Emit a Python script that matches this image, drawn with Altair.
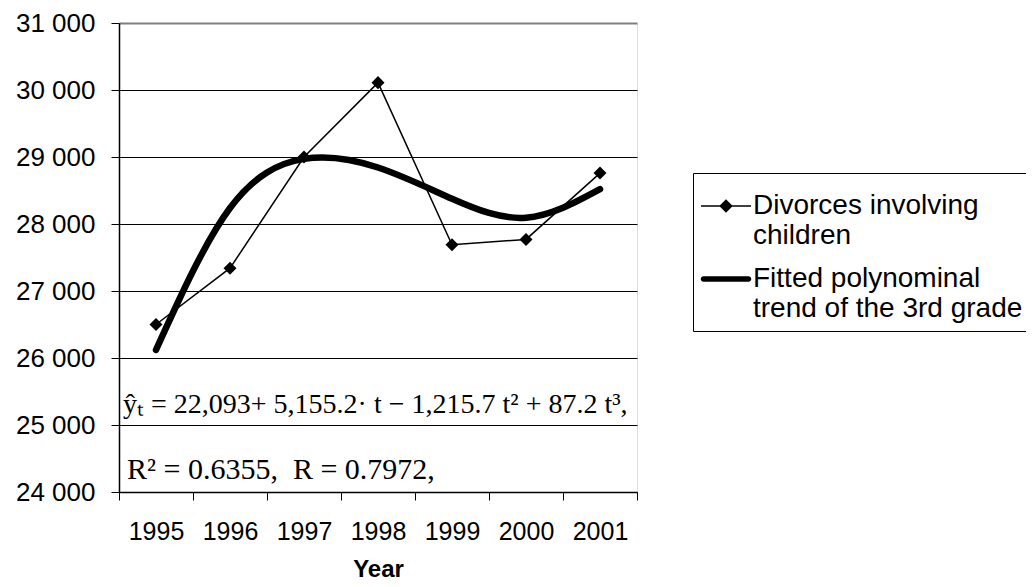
import altair as alt
import pandas as pd

years = ["1995", "1996", "1997", "1998", "1999", "2000", "2001"]
divorces = [26500, 27340, 29000, 30110, 27690, 27770, 28760]
trend = [26120, 28238, 28972, 28843, 28377, 28094, 28520]
y_ticks = [24000, 25000, 26000, 27000, 28000, 29000, 30000, 31000]
series_names = ["Divorces involving|children", "Fitted polynominal|trend of the 3rd grade"]
eq_text = ["ŷₜ = 22,093+ 5,155.2· t − 1,215.7 t² + 87.2 t³,"]
eq_year = ["1995"]
eq_value = [25180]
r_text = ["R² = 0.6355,\u00a0\u00a0R = 0.7972,"]
r_year = ["1995"]
r_value = [24200]

df = pd.DataFrame({"year": years, "divorces": divorces, "trend": trend})
eq_df = pd.DataFrame({"text": eq_text, "year": eq_year, "value": eq_value})
r_df = pd.DataFrame({"text": r_text, "year": r_year, "value": r_value})
leg = pd.DataFrame({"series": series_names})

SANS = "Liberation Sans"
SERIF = "Liberation Serif"

x_enc = alt.X(
    "year:N", sort=years,
    scale=alt.Scale(paddingInner=0, paddingOuter=0),
    axis=alt.Axis(
        title="Year", titleFont=SANS, titleFontSize=24, titleFontWeight="bold",
        titleColor="black", titlePadding=13,
        labelFont=SANS, labelFontSize=25, labelColor="black", labelAngle=0,
        labelPadding=19, tickBand="extent", tickSize=8, tickColor="black",
        domainColor="black", domainWidth=1.5, grid=False,
    ),
)
y_scale = alt.Scale(domain=[24000, 31000], nice=False, zero=False)
y_enc = alt.Y(
    "divorces:Q", scale=y_scale,
    axis=alt.Axis(
        title=None, values=y_ticks,
        labelExpr="replace(format(datum.value, ','), ',', ' ')",
        labelFont=SANS, labelFontSize=26, labelColor="black", labelPadding=16,
        tickSize=8, tickColor="black", domainColor="black", domainWidth=1.5,
        grid=True,
        gridColor={"condition": {"test": "datum.value == 31000", "value": "#808080"}, "value": "black"},
        gridWidth={"condition": {"test": "datum.value == 31000", "value": 2}, "value": 1},
    ),
)

base = alt.Chart(df)
div_line = base.mark_line(color="black", strokeWidth=1.5).encode(x=x_enc, y=y_enc)
div_pts = base.mark_point(shape="diamond", filled=True, size=170, color="black", opacity=1).encode(
    x=alt.X("year:N", sort=years), y=alt.Y("divorces:Q"))
trend_line = base.mark_line(color="black", strokeWidth=6.5, interpolate="natural", strokeCap="round").encode(
    x=alt.X("year:N", sort=years), y=alt.Y("trend:Q"))

eq_layer = alt.Chart(eq_df).mark_text(
    font=SERIF, fontSize=28, align="left", baseline="alphabetic", color="black", dx=4
).encode(
    x=alt.X("year:N", sort=years, bandPosition=0),
    y=alt.Y("value:Q"),
    text="text:N",
)
r_layer = alt.Chart(r_df).mark_text(
    font=SERIF, fontSize=30, align="left", baseline="alphabetic", color="black", dx=8
).encode(
    x=alt.X("year:N", sort=years, bandPosition=0),
    y=alt.Y("value:Q"),
    text="text:N",
)

# legend symbols drawn as filled shapes (thin bar + diamond, thick rounded bar)
path_div = "M-1,-0.03L1,-0.03L1,0.03L-1,0.03Z M0,-0.27L0.27,0L0,0.27L-0.27,0Z"
path_fit = "M-0.9,-0.11L0.9,-0.11A0.11,0.11 0 0 1 0.9,0.11L-0.9,0.11A0.11,0.11 0 0 1 -0.9,-0.11Z"

legend_layer = alt.Chart(leg).mark_point(filled=True, color="black", opacity=1).encode(
    shape=alt.Shape(
        "series:N",
        scale=alt.Scale(domain=series_names, range=[path_div, path_fit]),
        legend=alt.Legend(
            title=None, orient="none", legendX=574, legendY=150,
            labelFont=SANS, labelFontSize=28, labelColor="black",
            labelExpr="split(datum.label, '|')", labelLimit=500,
            symbolSize=2500, labelOffset=2, padding=8, rowPadding=4,
            strokeColor="black", symbolFillColor="black", symbolStrokeWidth=0,
            symbolOpacity=1,
        ),
    ),
).transform_filter("false")

chart = alt.layer(div_line, trend_line, div_pts, eq_layer, r_layer, legend_layer).properties(
    width=518, height=469,
    autosize=alt.AutoSizeParams(type="none"),
    padding={"left": 111, "top": 15, "right": 389, "bottom": 90},
).configure_view(stroke="#808080", strokeWidth=2).configure(background="white")

chart.save("out.html", embed_options={"renderer": "svg", "actions": False})
